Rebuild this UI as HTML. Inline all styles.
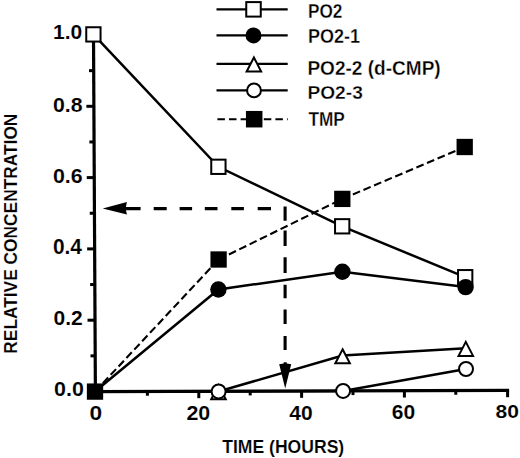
<!DOCTYPE html>
<html><head><meta charset="utf-8"><style>
html,body{margin:0;padding:0;background:#fff;}
body{width:520px;height:458px;overflow:hidden;}
svg{display:block;}
text{font-family:"Liberation Sans",sans-serif;font-weight:bold;fill:#000;}
</style></head><body>
<svg width="520" height="458" viewBox="0 0 520 458">
<g stroke="#000" stroke-linecap="butt">
<line x1="93.5" y1="35" x2="95.4" y2="393" stroke-width="3.2"/>
<line x1="93.8" y1="391.6" x2="509.1" y2="390.3" stroke-width="3.2"/>
<line x1="90.50" y1="355.85" x2="95.20" y2="355.85" stroke-width="3"/>
<line x1="87.51" y1="320.20" x2="95.01" y2="320.20" stroke-width="3"/>
<line x1="90.12" y1="284.55" x2="94.82" y2="284.55" stroke-width="3"/>
<line x1="87.14" y1="248.90" x2="94.64" y2="248.90" stroke-width="3"/>
<line x1="89.75" y1="213.25" x2="94.45" y2="213.25" stroke-width="3"/>
<line x1="86.76" y1="177.60" x2="94.26" y2="177.60" stroke-width="3"/>
<line x1="89.37" y1="141.95" x2="94.07" y2="141.95" stroke-width="3"/>
<line x1="86.38" y1="106.30" x2="93.88" y2="106.30" stroke-width="3"/>
<line x1="88.99" y1="70.65" x2="93.69" y2="70.65" stroke-width="3"/>
<line x1="147.40" y1="391.43" x2="147.40" y2="395.73" stroke-width="3"/>
<line x1="198.80" y1="391.27" x2="198.80" y2="398.17" stroke-width="3"/>
<line x1="250.20" y1="391.11" x2="250.20" y2="395.41" stroke-width="3"/>
<line x1="301.60" y1="390.95" x2="301.60" y2="397.85" stroke-width="3"/>
<line x1="353.00" y1="390.79" x2="353.00" y2="395.09" stroke-width="3"/>
<line x1="404.40" y1="390.63" x2="404.40" y2="397.53" stroke-width="3"/>
<line x1="455.80" y1="390.47" x2="455.80" y2="394.77" stroke-width="3"/>
<line x1="507.60" y1="390.30" x2="507.60" y2="397.20" stroke-width="3"/>
<path d="M124.5 208.6 H140.6 M153.7 208.6 H166.7 M179.6 208.6 H192.1 M204.8 208.6 H217.5 M231.3 208.6 H243.9 M257.7 208.6 H271.0" stroke-width="3.3" fill="none"/>
<path d="M285.1 206.5 V220.7 M285.1 230.6 V245.9 M285.1 257.2 V273.1 M285.1 284.7 V298.3 M285.1 309.5 V324.0 M285.1 335.9 V350.1" stroke-width="3.1" fill="none"/>
<path d="M102.7 208.6 L126.9 202.1 L125.6 208.6 L126.9 214.6 Z" stroke="none"/>
<path d="M285.2 388.5 L279.2 364.3 L283.6 363.6 L283.8 362.3 L286.6 362.3 L286.8 363.6 L291.2 364.3 Z" stroke="none"/>
<path d="M95.00 391.60 L218.60 259.50" fill="none" stroke-width="2.1" stroke-dasharray="7.8 3.7" stroke-dashoffset="0"/>
<path d="M218.60 259.50 L342.30 198.90" fill="none" stroke-width="2.1" stroke-dasharray="7.8 3.7" stroke-dashoffset="0"/>
<path d="M342.30 198.90 L464.70 147.00" fill="none" stroke-width="2.1" stroke-dasharray="7.8 3.7" stroke-dashoffset="0"/>
<polyline points="93.40,34.40 218.40,166.80 342.20,226.30 465.20,277.20" fill="none" stroke-width="2.5"/>
<polyline points="95.00,391.50 218.40,289.50 342.40,271.70 465.60,287.10" fill="none" stroke-width="2.5"/>
<polyline points="95.00,391.50 218.50,391.50 342.60,355.60 465.80,348.20" fill="none" stroke-width="2.5"/>
<polyline points="95.00,391.50 218.60,391.40 343.10,390.90 466.00,369.00" fill="none" stroke-width="2.5"/>
<rect x="86.25" y="27.25" width="14.3" height="14.3" fill="#fff" stroke-width="2"/>
<rect x="211.25" y="159.65" width="14.3" height="14.3" fill="#fff" stroke-width="2"/>
<rect x="335.05" y="219.15" width="14.3" height="14.3" fill="#fff" stroke-width="2"/>
<rect x="458.05" y="270.05" width="14.3" height="14.3" fill="#fff" stroke-width="2"/>
<path d="M218.50 385.20 L225.75 399.20 L211.25 399.20 Z" fill="#fff" stroke-width="2" stroke-linejoin="miter"/>
<path d="M342.60 349.30 L349.85 363.30 L335.35 363.30 Z" fill="#fff" stroke-width="2" stroke-linejoin="miter"/>
<path d="M465.80 341.90 L473.05 355.90 L458.55 355.90 Z" fill="#fff" stroke-width="2" stroke-linejoin="miter"/>
<circle cx="218.60" cy="391.40" r="7" fill="#fff" stroke-width="2"/>
<circle cx="343.10" cy="390.90" r="7" fill="#fff" stroke-width="2"/>
<circle cx="466.00" cy="369.00" r="7" fill="#fff" stroke-width="2"/>
<circle cx="218.40" cy="289.50" r="8.2" fill="#000" stroke-width="0"/>
<circle cx="342.40" cy="271.70" r="8.2" fill="#000" stroke-width="0"/>
<circle cx="465.60" cy="287.10" r="8.2" fill="#000" stroke-width="0"/>
<rect x="86.85" y="383.45" width="16.3" height="16.3" fill="#000" stroke-width="0"/>
<rect x="210.45" y="251.35" width="16.3" height="16.3" fill="#000" stroke-width="0"/>
<rect x="334.15" y="190.75" width="16.3" height="16.3" fill="#000" stroke-width="0"/>
<rect x="456.55" y="138.85" width="16.3" height="16.3" fill="#000" stroke-width="0"/>
<path d="M216.5 9.35 H287.7" stroke-width="2.3" fill="none"/>
<path d="M216.5 35.4 H287.7" stroke-width="2.3" fill="none"/>
<path d="M216.5 63.9 H287.7" stroke-width="2.3" fill="none"/>
<path d="M216.5 90.4 H287.7" stroke-width="2.3" fill="none"/>
<path d="M217.4 119.2 H287.7" stroke-width="2.1" stroke-dasharray="7.5 4.1" fill="none"/>
<rect x="246.25" y="2.10" width="14.5" height="14.5" fill="#fff" stroke-width="2"/>
<circle cx="253.50" cy="35.40" r="8" fill="#000" stroke-width="0"/>
<path d="M253.90 57.50 L261.15 71.50 L246.65 71.50 Z" fill="#fff" stroke-width="2" stroke-linejoin="miter"/>
<circle cx="254.00" cy="90.40" r="6.9" fill="#fff" stroke-width="2"/>
<rect x="245.95" y="110.95" width="16.5" height="16.5" fill="#000" stroke-width="0"/>
</g>
<text x="52.98" y="39.34" font-size="20.85" textLength="29.21" lengthAdjust="spacingAndGlyphs" stroke="#fff" stroke-width="0.1">1.0</text>
<text x="52.90" y="111.54" font-size="20.99" textLength="29.59" lengthAdjust="spacingAndGlyphs" stroke="#fff" stroke-width="0.1">0.8</text>
<text x="52.90" y="182.94" font-size="20.99" textLength="29.71" lengthAdjust="spacingAndGlyphs" stroke="#fff" stroke-width="0.1">0.6</text>
<text x="52.91" y="253.54" font-size="21.27" textLength="29.04" lengthAdjust="spacingAndGlyphs" stroke="#fff" stroke-width="0.1">0.4</text>
<text x="53.51" y="324.64" font-size="20.70" textLength="29.18" lengthAdjust="spacingAndGlyphs" stroke="#fff" stroke-width="0.1">0.2</text>
<text x="54.09" y="396.14" font-size="20.99" textLength="29.82" lengthAdjust="spacingAndGlyphs" stroke="#fff" stroke-width="0.1">0.0</text>
<text x="89.64" y="420.45" font-size="19.72" textLength="12.65" lengthAdjust="spacingAndGlyphs" stroke="#fff" stroke-width="0.1">0</text>
<text x="186.40" y="419.95" font-size="19.58" textLength="23.86" lengthAdjust="spacingAndGlyphs" stroke="#fff" stroke-width="0.1">20</text>
<text x="289.23" y="419.65" font-size="20.00" textLength="23.41" lengthAdjust="spacingAndGlyphs" stroke="#fff" stroke-width="0.1">40</text>
<text x="391.72" y="419.45" font-size="20.42" textLength="23.32" lengthAdjust="spacingAndGlyphs" stroke="#fff" stroke-width="0.1">60</text>
<text x="495.52" y="418.46" font-size="19.01" textLength="23.42" lengthAdjust="spacingAndGlyphs" stroke="#fff" stroke-width="0.1">80</text>
<text x="307.93" y="17.66" font-size="19.30" textLength="34.42" lengthAdjust="spacingAndGlyphs" stroke="#fff" stroke-width="0.3">PO2</text>
<text x="307.88" y="43.36" font-size="19.30" textLength="52.02" lengthAdjust="spacingAndGlyphs" stroke="#fff" stroke-width="0.3">PO2-1</text>
<text x="307.41" y="74.55" font-size="19.86" textLength="133.30" lengthAdjust="spacingAndGlyphs" stroke="#fff" stroke-width="0.3">PO2-2 (d-CMP)</text>
<text x="307.40" y="99.16" font-size="18.59" textLength="55.42" lengthAdjust="spacingAndGlyphs" stroke="#fff" stroke-width="0.3">PO2-3</text>
<text x="308.48" y="126.45" font-size="19.71" textLength="36.41" lengthAdjust="spacingAndGlyphs" stroke="#fff" stroke-width="0.3">TMP</text>
<text x="222.15" y="453.18" font-size="19.06" textLength="122.09" lengthAdjust="spacingAndGlyphs" stroke="#fff" stroke-width="0.15">TIME (HOURS)</text>
<text transform="translate(16.89,353.70) rotate(-90)" x="0" y="0" font-size="18.94" textLength="240.09" lengthAdjust="spacingAndGlyphs" stroke="#fff" stroke-width="0.15">RELATIVE CONCENTRATION</text>
</svg>
</body></html>
